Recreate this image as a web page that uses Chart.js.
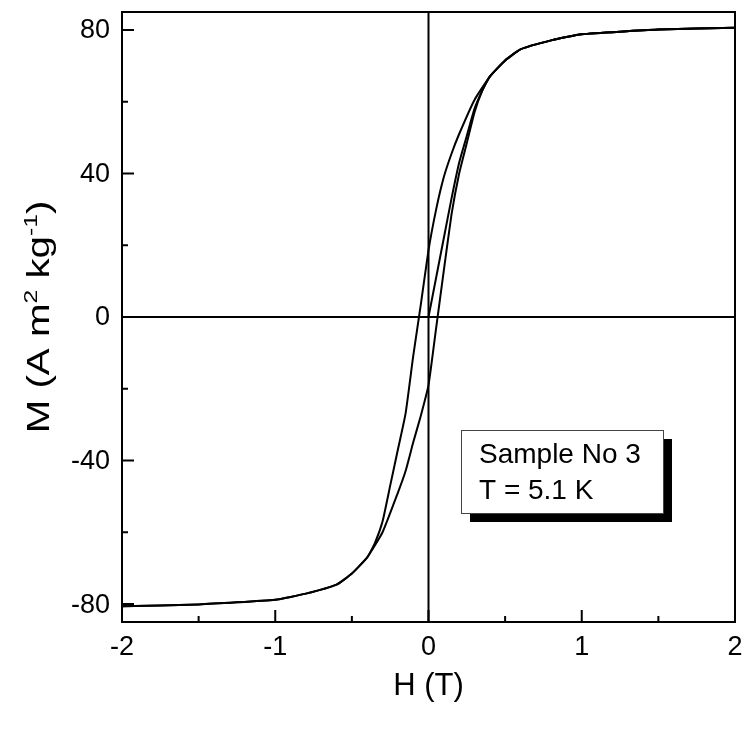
<!DOCTYPE html>
<html>
<head>
<meta charset="utf-8">
<script src="https://cdn.jsdelivr.net/npm/chart.js@4.4.1/dist/chart.umd.min.js"></script>
<style>
    html, body { margin: 0; padding: 0; background: #fff; }
    #wrap { width: 748px; height: 733px; }
</style>
</head>
<body>
<div id="wrap"><canvas id="loop" width="748" height="733"></canvas></div>
<script>
/**
 * Hysteresis loop M(H), sample No 3 at 5.1 K.
 */

// virgin curve, starts at the origin
const virginH = [0, 0.05, 0.1, 0.15, 0.2, 0.25, 0.3, 0.35, 0.4, 0.5, 0.6, 0.8, 1.0, 1.5, 2.0];
const virginM = [0, 11, 22, 33, 43, 50.5, 58, 63, 67, 71.5, 74.6, 77.1, 78.8, 80.1, 80.6];

// descending branch, +2 T down to -2 T
const downH = [2.0, 1.5, 1.0, 0.8, 0.6, 0.5, 0.4, 0.3, 0.2, 0.15, 0.1, 0.05, 0, -0.05, -0.1, -0.15, -0.2, -0.25, -0.3, -0.35, -0.4, -0.5, -0.6, -0.8, -1.0, -1.5, -2.0];
const downM = [80.6, 80.1, 78.8, 77.1, 74.6, 71.5, 67, 60.5, 51, 45.5, 39, 30, 18.6, 3.5, -11, -27, -37, -47, -57, -63, -67, -71.5, -74.6, -77.1, -78.8, -80.1, -80.6];

// ascending branch, -2 T back up to +2 T
const upH = [-2.0, -1.5, -1.0, -0.8, -0.6, -0.5, -0.4, -0.3, -0.2, -0.15, -0.1, -0.05, 0, 0.05, 0.1, 0.15, 0.2, 0.25, 0.3, 0.35, 0.4, 0.5, 0.6, 0.8, 1.0, 1.5, 2.0];
const upM = [-80.6, -80.1, -78.8, -77.1, -74.6, -71.5, -67, -60, -49, -43, -35, -27.5, -19, -3, 13, 28.5, 40, 48.5, 57, 63, 67, 71.5, 74.6, 77.1, 78.8, 80.1, 80.6];

const xMajor = [-2, -1, 0, 1, 2];
const xMinor = [-1.5, -0.5, 0.5, 1.5];
const yMajor = [-80, -40, 0, 40, 80];
const yMinor = [-60, -20, 20, 60];

const xTitle = 'H (T)';
const yTitleParts = [['M (A m', false], ['2', true], [' kg', false], ['-1', true], [')', false]];
const noteLines = ['Sample No 3', 'T = 5.1 K'];

const FONT = '"Liberation Sans", Arial, sans-serif';

function pts(hs, ms) {
    return hs.map((h, i) => ({ x: h, y: ms[i] }));
}

function lineSet(label, hs, ms) {
    return {
        label,
        data: pts(hs, ms),
        showLine: true,
        borderColor: '#000',
        borderWidth: 2,
        pointRadius: 0,
        tension: 0.15,
        fill: false,
    };
}

const frame = {
    id: 'frame',
    beforeDatasetsDraw(chart) {
        const { ctx, chartArea: a, scales: { x, y } } = chart;
        ctx.save();
        ctx.strokeStyle = '#000';
        ctx.lineWidth = 2;
        const x0 = x.getPixelForValue(0);
        const y0 = y.getPixelForValue(0);
        ctx.beginPath();
        ctx.moveTo(x0, a.top);
        ctx.lineTo(x0, a.bottom);
        ctx.moveTo(a.left, y0);
        ctx.lineTo(a.right, y0);
        ctx.stroke();
        ctx.restore();
    },
    afterDatasetsDraw(chart) {
        const { ctx, chartArea: a, scales: { x, y } } = chart;
        ctx.save();
        ctx.strokeStyle = '#000';
        ctx.lineWidth = 2;
        ctx.strokeRect(a.left, a.top, a.right - a.left, a.bottom - a.top);

        // inward ticks, bottom and left only
        ctx.beginPath();
        xMajor.forEach((v) => {
            const px = x.getPixelForValue(v);
            ctx.moveTo(px, a.bottom);
            ctx.lineTo(px, a.bottom - 12);
        });
        xMinor.forEach((v) => {
            const px = x.getPixelForValue(v);
            ctx.moveTo(px, a.bottom);
            ctx.lineTo(px, a.bottom - 6);
        });
        yMajor.forEach((v) => {
            const py = y.getPixelForValue(v);
            ctx.moveTo(a.left, py);
            ctx.lineTo(a.left + 12, py);
        });
        yMinor.forEach((v) => {
            const py = y.getPixelForValue(v);
            ctx.moveTo(a.left, py);
            ctx.lineTo(a.left + 6, py);
        });
        ctx.stroke();

        // tick labels
        ctx.fillStyle = '#000';
        ctx.font = `27px ${FONT}`;
        ctx.textBaseline = 'middle';
        ctx.textAlign = 'center';
        xMajor.forEach((v) => {
            ctx.fillText(String(v), x.getPixelForValue(v), 648);
        });
        ctx.textAlign = 'right';
        yMajor.forEach((v) => {
            ctx.fillText(String(v), 110, y.getPixelForValue(v) + 1);
        });

        // axis titles
        ctx.font = `31px ${FONT}`;
        ctx.textAlign = 'center';
        ctx.fillText(xTitle, x.getPixelForValue(0), 686);

        // y title: the reference lettering is stretched along its length
        ctx.save();
        ctx.translate(38, y.getPixelForValue(0));
        ctx.rotate(-Math.PI / 2);
        ctx.scale(1.3, 1);
        ctx.textAlign = 'left';
        ctx.textBaseline = 'alphabetic';
        const widths = yTitleParts.map(([t, sup]) => {
            ctx.font = `${sup ? 19 : 31}px ${FONT}`;
            return ctx.measureText(t).width;
        });
        let cx = -widths.reduce((s, w) => s + w, 0) / 2;
        yTitleParts.forEach(([t, sup], i) => {
            ctx.font = `${sup ? 19 : 31}px ${FONT}`;
            ctx.fillText(t, cx, sup ? -1 : 11);
            cx += widths[i];
        });
        ctx.restore();

        // note box with drop shadow
        const bx = 461, by = 430, bw = 202, bh = 83, sh = 9;
        ctx.fillStyle = '#000';
        ctx.fillRect(bx + sh, by + sh, bw, bh);
        ctx.fillStyle = '#fff';
        ctx.fillRect(bx, by, bw, bh);
        ctx.lineWidth = 1;
        ctx.strokeStyle = '#444';
        ctx.strokeRect(bx + 0.5, by + 0.5, bw, bh);
        ctx.fillStyle = '#000';
        ctx.font = `28px ${FONT}`;
        ctx.textAlign = 'left';
        ctx.textBaseline = 'middle';
        ctx.fillText(noteLines[0], 479, 455);
        ctx.fillText(noteLines[1], 479, 491);
        ctx.restore();
    },
};

new Chart(document.getElementById('loop'), {
    type: 'scatter',
    data: {
        datasets: [
            lineSet('virgin', virginH, virginM),
            lineSet('down', downH, downM),
            lineSet('up', upH, upM),
        ],
    },
    options: {
        responsive: false,
        animation: false,
        layout: { padding: { top: 12, right: 13, left: 0, bottom: 0 } },
        plugins: {
            legend: { display: false },
            tooltip: { enabled: false },
        },
        scales: {
            x: {
                type: 'linear',
                min: -2,
                max: 2,
                grid: { display: false },
                border: { display: false },
                ticks: { display: false, stepSize: 1 },
                afterFit(scale) { scale.height = 111; },
            },
            y: {
                type: 'linear',
                min: -85,
                max: 85,
                grid: { display: false },
                border: { display: false },
                ticks: { display: false, stepSize: 40 },
                afterFit(scale) { scale.width = 122; },
            },
        },
    },
    plugins: [frame],
});
</script>
</body>
</html>
